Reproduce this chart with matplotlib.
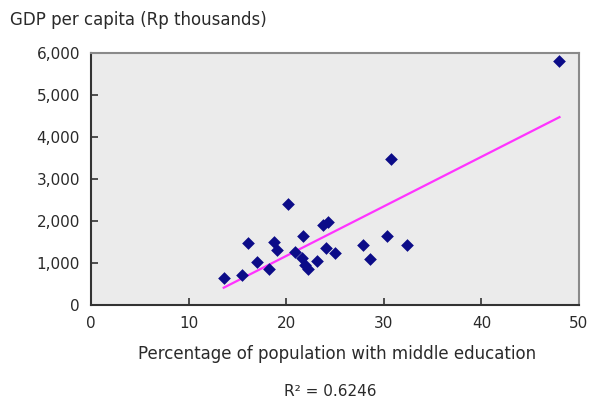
import numpy as np
import matplotlib
matplotlib.use("Agg")
import matplotlib.pyplot as plt
from matplotlib.ticker import FuncFormatter

# Regional data: share of population with middle education (%) vs GDP per capita
edu_pct = [13.6, 15.5, 16.1, 17.0, 18.2, 18.8, 19.1, 20.2, 20.9, 21.6,
           21.7, 21.9, 22.2, 23.2, 23.8, 24.3, 24.1, 25.0, 27.9, 28.6,
           30.3, 30.7, 32.4, 48.0]
gdp_pc = [640, 710, 1470, 1020, 860, 1500, 1300, 2400, 1260, 1120,
          1640, 950, 855, 1045, 1900, 1970, 1350, 1230, 1425, 1090,
          1640, 3470, 1425, 5800]

x_ticks = [0, 10, 20, 30, 40, 50]
y_ticks = [0, 1000, 2000, 3000, 4000, 5000, 6000]
r2_text = "R\u00b2 = 0.6246"

plt.rcParams['font.family'] = ['DejaVu Sans']
text_color = "#2a2a2a"

fig = plt.figure(figsize=(5.93, 4.01), dpi=100)
ax = fig.add_axes([91/593, 1 - 305/401, (579 - 91)/593, (305 - 53)/401])
ax.set_facecolor("#ebebeb")

x = np.array(edu_pct)
y = np.array(gdp_pc)
ax.scatter(x, y, marker="D", s=42, color="#0c0c88", zorder=3, linewidths=0)

# least-squares trend line over the observed range
slope, intercept = np.polyfit(x, y, 1)
xl = np.array([x.min(), x.max()])
ax.plot(xl, slope * xl + intercept, color="#ff33ff", lw=1.6, zorder=2)

ax.set_xlim(0, 50)
ax.set_ylim(0, 6000)
ax.set_xticks(x_ticks)
ax.set_yticks(y_ticks)
ax.yaxis.set_major_formatter(FuncFormatter(lambda v, p: f"{int(v):,}"))
ax.tick_params(direction="in", length=5, width=1.2, color="#333333",
               labelsize=11, labelcolor=text_color, pad=8)
ax.tick_params(axis="x", pad=8)

for side in ("left", "bottom"):
    ax.spines[side].set_color("#333333")
    ax.spines[side].set_linewidth(1.5)
for side in ("top", "right"):
    ax.spines[side].set_color("#8a8a8a")
    ax.spines[side].set_linewidth(1.5)

fig.text(10/593, 1 - 20/401, "GDP per capita (Rp thousands)", fontsize=12,
         color=text_color, va="center", ha="left")
fig.text(337/593, 1 - 354/401, "Percentage of population with middle education",
         fontsize=12, color=text_color, va="center", ha="center")
fig.text(330/593, 1 - 391/401, r2_text, fontsize=11, color=text_color,
         va="center", ha="center")

fig.savefig("out.png", dpi=100, facecolor="white")
